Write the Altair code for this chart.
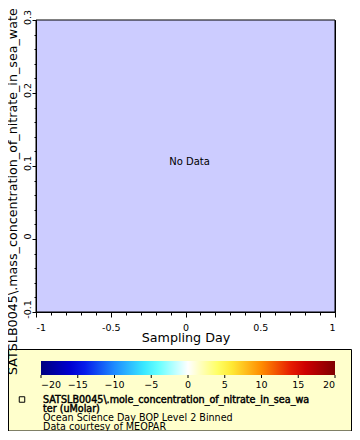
import altair as alt
import pandas as pd

# ---- values ----
x_domain = [-1, 1]
y_domain = [-0.1, 0.3]
x_ticks = [-1, -0.9, -0.8, -0.7, -0.6, -0.5, -0.4, -0.3, -0.2, -0.1, 0,
           0.1, 0.2, 0.3, 0.4, 0.5, 0.6, 0.7, 0.8, 0.9, 1]
y_ticks = [-0.1, -0.08, -0.06, -0.04, -0.02, 0, 0.02, 0.04, 0.06, 0.08, 0.1,
           0.12, 0.14, 0.16, 0.18, 0.2, 0.22, 0.24, 0.26, 0.28, 0.3]
cbar_values = [-20, -15, -10, -5, 0, 5, 10, 15, 20]
cbar_colors = ["#00007f", "#0000e6", "#1e8cff", "#40ffff", "#ffffff",
               "#ffff40", "#ff8c00", "#e00000", "#800000"]
no_data_label = ["No Data"]
legend_lines_bold = ["SATSLB0045\\.mole_concentration_of_nitrate_in_sea_wa", "ter (uMolar)"]
legend_lines = ["Ocean Science Day BOP Level 2 Binned", "Data courtesy of MEOPAR"]
x_title = "Sampling Day"
y_title = "SATSLB0045\\.mass_concentration_of_nitrate_in_sea_water"

FONT = "DejaVu Sans"

no_data = pd.DataFrame({"day": [0], "conc": [0.1], "label": no_data_label})
bg_df = pd.DataFrame({"x0": [x_domain[0]], "x1": [x_domain[1]],
                      "y0": [y_domain[0]], "y1": [y_domain[1]]})
cbar_df = pd.DataFrame({"v": cbar_values})
one = pd.DataFrame({"k": [0]})

x_major = "abs(datum.value*2 - round(datum.value*2)) < 0.001"
y_major = "abs(datum.value*10 - round(datum.value*10)) < 0.001"

x_scale = alt.Scale(domain=x_domain, nice=False, zero=False)
y_scale = alt.Scale(domain=y_domain, nice=False, zero=False)

x_axis = alt.Axis(
    values=x_ticks, title=x_title, titleFont=FONT, titleFontSize=12.7,
    titleFontWeight="normal", titleColor="black", titleY=29.5,
    titleBaseline="alphabetic",
    labelFont=FONT, labelFontSize=9.5, labelColor="black", labelPadding=5,
    labelFlush=True, labelOverlap=False,
    labelExpr=f"{x_major} ? toString(round(datum.value*10)/10) : ''",
    tickSize={"condition": {"test": x_major, "value": 5}, "value": 3},
    tickColor="black", domainColor="black", grid=False, zindex=1,
)
y_axis = alt.Axis(
    values=y_ticks, title=y_title, titleFont=FONT, titleFontSize=12.7,
    titleFontWeight="normal", titleColor="black", titleAngle=270,
    titleX=-20, titleY=168.5, titleAlign="center", titleBaseline="alphabetic",
    labelFont=FONT, labelFontSize=9.5, labelColor="black", labelAngle=270,
    labelAlign="center", labelBaseline="bottom", labelPadding=0,
    labelOffset=-3, labelFlush=False, labelOverlap=False,
    labelExpr=f"{y_major} ? toString(round(datum.value*10)/10) : ''",
    tickSize={"condition": {"test": y_major, "value": 4}, "value": 2},
    tickColor="black", domainColor="black", grid=False, zindex=1,
)

# plot-area background, spanning the axis domains
bg = alt.Chart(bg_df).mark_rect(fill="#CCCCFF", stroke="black", strokeWidth=1).encode(
    x=alt.X("x0:Q", scale=x_scale, axis=None), x2="x1:Q",
    y=alt.Y("y0:Q", scale=y_scale, axis=y_axis), y2="y1:Q",
)

box = alt.Chart(one).mark_rect(fill="#FFFFCC", stroke="black", strokeWidth=1).encode(
    x=alt.value(-27.5), x2=alt.value(315.5), y=alt.value(329.5), y2=alt.value(411)
)

main = alt.Chart(no_data).mark_text(font=FONT, fontSize=10, color="black", dx=4, dy=-4).encode(
    x=alt.X("day:Q", scale=x_scale, axis=x_axis),
    y=alt.Y("conc:Q", scale=y_scale, axis=y_axis),
    text="label:N",
)

cbar = alt.Chart(cbar_df).mark_point(opacity=0).encode(
    color=alt.Color(
        "v:Q",
        scale=alt.Scale(domain=cbar_values, range=cbar_colors, interpolate="rgb"),
        legend=alt.Legend(
            orient="none", legendX=5, legendY=341, direction="horizontal",
            gradientLength=294, gradientThickness=14, gradientStrokeWidth=0,
            values=cbar_values, labelFont=FONT, labelFontSize=9.5,
            labelColor="black", labelOffset=5, labelAlign="center",
            labelOverlap=False, padding=0,
        ),
        title=None,
    )
)

cticks = alt.Chart(cbar_df).mark_rule(color="black", strokeWidth=1).encode(
    x=alt.X("v:Q", scale=alt.Scale(domain=[-20, 20], range=[5, 299]), axis=None),
    y=alt.value(355), y2=alt.value(358),
)

marker = alt.Chart(one).mark_point(shape="square", filled=False, color="black",
                                   strokeWidth=1, size=30, opacity=1).encode(
    x=alt.value(-14), y=alt.value(379.5)
)

texts = []
for i, t in enumerate(legend_lines_bold):
    texts.append(alt.Chart(one).mark_text(font=FONT, fontSize=9.6, color="black",
                                          stroke="black", strokeWidth=0.45,
                                          align="left", baseline="middle").encode(
        x=alt.value(7), y=alt.value(379.5 + 9 * i), text=alt.value(t)))
for i, t in enumerate(legend_lines):
    texts.append(alt.Chart(one).mark_text(font=FONT, fontSize=9.6,
                                          color="black", align="left", baseline="middle").encode(
        x=alt.value(7), y=alt.value(397.5 + 9 * i), text=alt.value(t)))

chart = alt.layer(bg, main, box, cbar, cticks, marker, *texts).resolve_scale(
    x="independent"
).properties(
    width=299, height=292,
    padding={"left": 28, "top": 12, "right": 17, "bottom": 119},
    autosize=alt.AutoSizeParams(type="none"),
    background="white",
).configure_view(fill="#CCCCFF", stroke="black", strokeWidth=1)

chart.save("out.html", embed_options={"renderer": "svg", "actions": False})
